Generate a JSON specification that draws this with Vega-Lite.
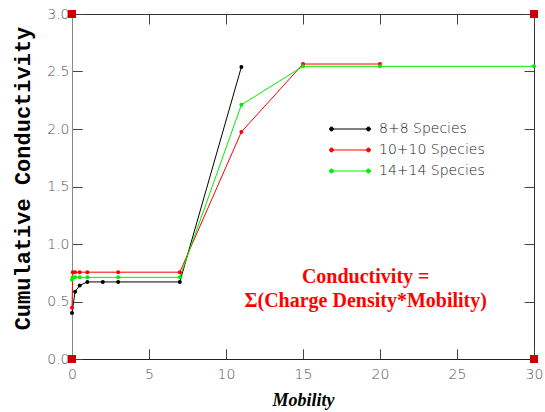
{
  "$schema": "https://vega.github.io/schema/vega-lite/v6.json",
  "width": 462,
  "height": 345,
  "autosize": "none",
  "padding": {"left": 72, "top": 14, "right": 11, "bottom": 53},
  "background": "white",
  "config": {
    "view": {"stroke": "#333", "strokeWidth": 1},
    "axis": {
      "domainWidth": 1,
      "labelFont": "DejaVu Sans",
      "labelFontWeight": 200,
      "labelFontSize": 14,
      "labelColor": "#555",
      "labelFlush": false,
      "labelOverlap": false
    }
  },
  "datasets": {
    "lines": [
      {"series": "8+8 Species", "x": 0, "y": 0.40},
      {"series": "8+8 Species", "x": 0.2, "y": 0.585},
      {"series": "8+8 Species", "x": 0.5, "y": 0.64},
      {"series": "8+8 Species", "x": 1, "y": 0.67},
      {"series": "8+8 Species", "x": 2, "y": 0.67},
      {"series": "8+8 Species", "x": 3, "y": 0.67},
      {"series": "8+8 Species", "x": 7, "y": 0.67},
      {"series": "8+8 Species", "x": 11, "y": 2.54},
      {"series": "10+10 Species", "x": 0, "y": 0.445},
      {"series": "10+10 Species", "x": 0.05, "y": 0.755},
      {"series": "10+10 Species", "x": 0.2, "y": 0.755},
      {"series": "10+10 Species", "x": 0.5, "y": 0.755},
      {"series": "10+10 Species", "x": 1, "y": 0.755},
      {"series": "10+10 Species", "x": 3, "y": 0.755},
      {"series": "10+10 Species", "x": 7, "y": 0.755},
      {"series": "10+10 Species", "x": 11, "y": 1.975},
      {"series": "10+10 Species", "x": 15, "y": 2.565},
      {"series": "10+10 Species", "x": 20, "y": 2.565},
      {"series": "14+14 Species", "x": 0, "y": 0.69},
      {"series": "14+14 Species", "x": 0.05, "y": 0.71},
      {"series": "14+14 Species", "x": 0.2, "y": 0.71},
      {"series": "14+14 Species", "x": 0.5, "y": 0.71},
      {"series": "14+14 Species", "x": 1, "y": 0.71},
      {"series": "14+14 Species", "x": 3, "y": 0.71},
      {"series": "14+14 Species", "x": 7, "y": 0.71},
      {"series": "14+14 Species", "x": 11, "y": 2.21},
      {"series": "14+14 Species", "x": 15, "y": 2.545},
      {"series": "14+14 Species", "x": 20, "y": 2.545},
      {"series": "14+14 Species", "x": 30, "y": 2.545}
    ],
    "corners": [
      {"x": 0, "y": 0},
      {"x": 0, "y": 3},
      {"x": 30, "y": 0},
      {"x": 30, "y": 3}
    ]
  },
  "layer": [
    {
      "data": {"name": "lines"},
      "mark": {"type": "line", "strokeWidth": 1, "point": {"filled": true, "size": 16, "opacity": 1}},
      "encoding": {
        "x": {"field": "x", "type": "quantitative", "scale": {"domain": [0, 30], "nice": false},
          "axis": {"orient": "bottom", "tickCount": 6, "domainColor": "#222",
            "ticks": true, "tickSize": -10, "tickColor": "#444", "tickWidth": 1, "labelPadding": 18,
            "grid": true, "gridDash": [10, 325], "gridColor": "#444", "gridWidth": 1, "gridOpacity": 1,
            "title": "Mobility", "titleFont": "Liberation Serif", "titleFontStyle": "italic", "titleFontWeight": "bold", "titleFontSize": 18, "titleColor": "#000", "titlePadding": 10}},
        "y": {"field": "y", "type": "quantitative", "scale": {"domain": [0, 3], "nice": false},
          "axis": {"orient": "left", "tickCount": 6, "format": ".1f", "domainColor": "#888",
            "ticks": true, "tickSize": -10, "tickColor": "#444", "tickWidth": 1, "labelPadding": 13,
            "grid": true, "gridDash": [10, 442], "gridColor": "#444", "gridWidth": 1, "gridOpacity": 1,
            "title": "Cumulative Conductivity", "titleFont": "Liberation Mono", "titleFontWeight": "bold", "titleFontSize": 22, "titleColor": "#000", "titlePadding": 12, "titleY": 164}},
        "color": {"field": "series", "type": "nominal",
          "scale": {"domain": ["8+8 Species", "10+10 Species", "14+14 Species"], "range": ["#000000", "#ff0000", "#00ee00"]},
          "legend": {
            "title": null, "orient": "none", "legendX": 271, "legendY": 108, "padding": 0,
            "symbolType": "M-3.08,0L3.08,0M-3.41,0A0.33,0.33,0,1,0,-2.75,0A0.33,0.33,0,1,0,-3.41,0M2.75,0A0.33,0.33,0,1,0,3.41,0A0.33,0.33,0,1,0,2.75,0",
            "symbolSize": 144, "symbolStrokeWidth": 1, "labelOffset": 22, "rowPadding": 7,
            "labelFont": "DejaVu Sans", "labelFontWeight": 200, "labelFontSize": 14, "labelColor": "#222",
            "encode": {"symbols": {"update": {"fill": {"scale": "color", "field": "value"}, "stroke": {"scale": "color", "field": "value"}, "fillOpacity": {"value": 1}}}}
          }}
      }
    },
    {
      "data": {"name": "corners"},
      "mark": {"type": "square", "filled": true, "size": 64, "color": "#cc0000", "opacity": 1},
      "encoding": {
        "x": {"field": "x", "type": "quantitative"},
        "y": {"field": "y", "type": "quantitative"}
      }
    },
    {
      "data": {"values": [{"label": ["Conductivity =", "Σ(Charge Density*Mobility)"]}]},
      "mark": {"type": "text", "align": "center", "baseline": "alphabetic", "font": "Liberation Serif", "fontWeight": "bold", "fontSize": 20, "lineHeight": 24, "color": "#ff0000"},
      "encoding": {
        "x": {"datum": 19.07, "type": "quantitative"},
        "y": {"datum": 0.661, "type": "quantitative"},
        "text": {"field": "label"}
      }
    }
  ]
}
